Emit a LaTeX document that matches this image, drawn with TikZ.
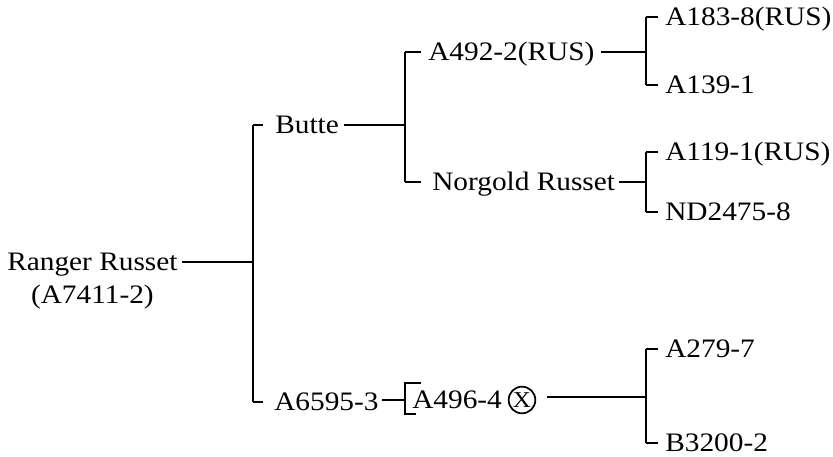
\documentclass[tikz,border=0pt]{standalone}
\usepackage{fontspec}
\setmainfont{Liberation Serif}[FakeStretch=1.1]
\usetikzlibrary{calc}
\begin{document}
\begin{tikzpicture}[x=0.75pt,y=-0.75pt,
  txt/.style={inner sep=0pt, font=\fontsize{20}{24}\selectfont},
  lab/.style={txt, anchor=base west, yshift=-6.6pt},
  ln/.style={line width=1.2pt, line cap=butt},
]
\useasboundingbox (0,0) rectangle (833,457);
% junctions
\coordinate (v0t) at (253,125);
\coordinate (v0m) at (253,262);
\coordinate (v0b) at (253,402);
\coordinate (v1t) at (405,52);
\coordinate (v1m) at (405,125);
\coordinate (v1b) at (405,182);
\coordinate (v2t) at (646,17);
\coordinate (v2m) at (646,52);
\coordinate (v2b) at (646,85);
\coordinate (v3t) at (646,152);
\coordinate (v3m) at (646,182);
\coordinate (v3b) at (646,212);
\coordinate (v4t) at (646,349);
\coordinate (v4m) at (646,397);
\coordinate (v4b) at (646,443);
\coordinate (brt) at (421,383);
\coordinate (brm) at (405,400);
\coordinate (brb) at (416,414);
% nodes
\node[lab] (rr) at (7,262) {Ranger Russet};
\node[txt, anchor=base] (rr2) at ([yshift=-24.5pt]rr.base) {(A7411-2)};
\node[lab] (butte) at (275,125) {Butte};
\node[lab] (a492) at (428,52) {A492-2(RUS)};
\node[lab] (norg) at (432,182) {Norgold Russet};
\node[lab] (a183) at (665,17) {A183-8(RUS)};
\node[lab] (a139) at (665,85) {A139-1};
\node[lab] (a119) at (665,152) {A119-1(RUS)};
\node[lab] (nd) at (665,212) {ND2475-8};
\node[lab] (a6595) at (274,402) {A6595-3};
\node[lab] (a496) at (412,400) {A496-4};
\node[circle, draw, line width=1.3pt, minimum size=20pt, inner sep=0pt, font=\fontsize{17}{17}\selectfont] (self) at (522,400) {X};
\node[lab] (a279) at (665,349) {A279-7};
\node[lab] (b3200) at (665,443) {B3200-2};
% level 0
\draw[ln] ($(rr.east |- v0m)+(4,0)$) -- (v0m);
\draw[ln] (v0t) -- (v0b);
\draw[ln] (v0t) -- ($(butte.west |- v0t)+(-12,0)$);
\draw[ln] (v0b) -- ($(a6595.west |- v0b)+(-11,0)$);
% Butte branch
\draw[ln] ($(butte.east |- v1m)+(5,0)$) -- (v1m);
\draw[ln] (v1t) -- (v1b);
\draw[ln] (v1t) -- ($(a492.west |- v1t)+(-7,0)$);
\draw[ln] (v1b) -- ($(norg.west |- v1b)+(-11,0)$);
% A492-2 branch
\draw[ln] ($(a492.east |- v2m)+(6,0)$) -- (v2m);
\draw[ln] (v2t) -- (v2b);
\draw[ln] (v2t) -- ($(a183.west |- v2t)+(-7,0)$);
\draw[ln] (v2b) -- ($(a139.west |- v2b)+(-7,0)$);
% Norgold branch
\draw[ln] ($(norg.east |- v3m)+(4,0)$) -- (v3m);
\draw[ln] (v3t) -- (v3b);
\draw[ln] (v3t) -- ($(a119.west |- v3t)+(-7,0)$);
\draw[ln] (v3b) -- ($(nd.west |- v3b)+(-7,0)$);
% A6595-3 branch
\draw[ln] ($(a6595.east |- brm)+(3,0)$) -- (brm);
\draw[ln] (brt) -- (405,383) -- (405,414) -- (brb);
\draw[ln] ($(self.east |- v4m)+(11,0)$) -- (v4m);
\draw[ln] (v4t) -- (v4b);
\draw[ln] (v4t) -- ($(a279.west |- v4t)+(-7,0)$);
\draw[ln] (v4b) -- ($(b3200.west |- v4b)+(-7,0)$);
\end{tikzpicture}
\end{document}
